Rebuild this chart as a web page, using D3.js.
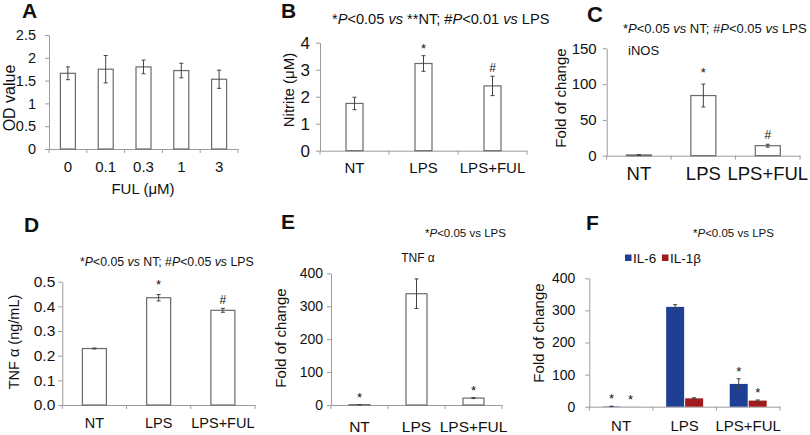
<!DOCTYPE html>
<html><head><meta charset="utf-8">
<script src="https://cdn.jsdelivr.net/npm/d3@7"></script>
<style>
body{margin:0;background:#fff;}
svg text{font-family:"Liberation Sans",Arial,Helvetica,sans-serif;fill:#111;}
</style></head><body>
<svg id="c" width="810" height="435"></svg>
<script>
// ---------- data ----------
const doseLabels = ["0","0.1","0.3","1","3"];
const odValues = [1.66,1.75,1.80,1.72,1.53];
const odErrors = [0.14,0.30,0.15,0.16,0.20];
const odTicks = [0,0.5,1,1.5,2,2.5];

const groups = ["NT","LPS","LPS+FUL"];

const nitriteValues = [1.75,3.23,2.40];
const nitriteErrors = [0.23,0.29,0.36];
const nitriteSig = ["","*","#"];
const nitriteTicks = [0,1,2,3,4];

const inosValues = [1,84,14];
const inosErrors = [0.5,16,2];
const inosSig = ["","*","#"];
const inosTicks = [0,50,100,150];

const tnfProteinValues = [0.229,0.435,0.384];
const tnfProteinErrors = [0.002,0.013,0.008];
const tnfProteinSig = ["","*","#"];
const tnfProteinTicks = [0,0.1,0.2,0.3,0.4,0.5];

const tnfMrnaValues = [1,338,21];
const tnfMrnaErrors = [0.5,45,1.5];
const tnfMrnaSig = ["*","","*"];
const foldTicks = [0,100,200,300,400];

const seriesNames = ["IL-6","IL-1β"];
const il6Values = [1,311,71];
const il6Errors = [0.5,7,16];
const il6Sig = ["*","","*"];
const il1bValues = [0.3,26,19];
const il1bErrors = [0,2,2];
const il1bSig = ["*","","*"];
const seriesColors = ["#1f3f95","#a01c1c"];

// ---------- drawing ----------
const svg = d3.select("#c");
const AX = "#9c9c9c";
const BAR = "#6a6a6a";

function panel(o){
  const x = d3.scaleBand().domain(o.cats).range([o.left,o.right]);
  const y = d3.scaleLinear().domain([0,o.ticks[o.ticks.length-1]]).range([o.bottom,o.top]);
  const g = svg.append("g");

  const ya = g.append("g").attr("transform",`translate(${o.left},0)`)
    .call(d3.axisLeft(y).tickValues(o.ticks).tickFormat(o.fmt||d3.format("")).tickSize(4).tickPadding(o.ypad-4).tickSizeOuter(0));
  const xa = g.append("g").attr("transform",`translate(0,${o.bottom})`)
    .call(d3.axisBottom(x).tickSize(0).tickPadding(o.xpad).tickSizeOuter(0));
  [ya,xa].forEach(a=>{
    a.attr("font-family",null).attr("font-size",null);
    a.selectAll("path,line").attr("stroke",AX).attr("stroke-width",1);
  });
  ya.selectAll("text").style("font-size",o.yfs+"px");
  xa.selectAll("text").style("font-size",o.xfs+"px");

  // category boundary ticks
  const bounds = o.cats.map(c=>x(c)).concat([x.range()[1]]);
  g.append("g").selectAll("line").data(bounds).join("line")
    .attr("x1",d=>d).attr("x2",d=>d).attr("y1",o.bottom).attr("y2",o.bottom+4)
    .attr("stroke",AX);

  // bars
  const n = o.series.length;
  const sub = d3.scaleBand().domain(d3.range(n)).range([0,o.barW*n]);
  const off = (x.bandwidth()-o.barW*n)/2;
  o.series.forEach((s,si)=>{
    const sg = g.append("g");
    const data = o.cats.map((c,i)=>({c,v:s.vals[i],e:s.errs[i],sig:s.sig?s.sig[i]:""}));
    sg.selectAll("rect").data(data).join("rect")
      .attr("x",d=>x(d.c)+off+sub(si)+0.5)
      .attr("y",d=>y(d.v))
      .attr("width",o.barW-1)
      .attr("height",d=>y(0)-y(d.v))
      .attr("fill",s.fill||"#fff")
      .attr("stroke",s.fill?"none":BAR).attr("stroke-width",1.2);
    const cx = d=>x(d.c)+off+sub(si)+o.barW/2;
    const eb = sg.selectAll("g.eb").data(data.filter(d=>d.e>0)).join("g").attr("class","eb");
    eb.append("line").attr("x1",cx).attr("x2",cx).attr("y1",d=>y(d.v+d.e)).attr("y2",d=>y(d.v-d.e))
      .attr("stroke","#444").attr("stroke-width",1);
    eb.append("line").attr("x1",d=>cx(d)-2).attr("x2",d=>cx(d)+2).attr("y1",d=>y(d.v+d.e)).attr("y2",d=>y(d.v+d.e))
      .attr("stroke","#444").attr("stroke-width",1);
    eb.append("line").attr("x1",d=>cx(d)-2).attr("x2",d=>cx(d)+2).attr("y1",d=>y(d.v-d.e)).attr("y2",d=>y(d.v-d.e))
      .attr("stroke","#444").attr("stroke-width",1);
    sg.selectAll("text.sig").data(data.filter(d=>d.sig)).join("text").attr("class","sig")
      .attr("x",cx).attr("y",d=>y(d.v+d.e)-(d.sig==="*"?o.starGap:o.hashGap))
      .attr("text-anchor","middle").style("font-size",(d=>d.sig==="*"?"13px":"12px"))
      .text(d=>d.sig);
  });
  return {x,y,g};
}

function label(x,y,t,fs,opts={}){
  const el = svg.append("text").attr("x",x).attr("y",y).style("font-size",fs+"px").text(t);
  if(opts.bold) el.style("font-weight","bold");
  if(opts.anchor) el.attr("text-anchor",opts.anchor);
  if(opts.rot) el.attr("transform",`rotate(-90,${x},${y})`);
  return el;
}
function annot(x,y,parts,fs){
  const t = svg.append("text").attr("x",x).attr("y",y).style("font-size",fs+"px");
  parts.forEach(p=>{
    const s = t.append("tspan").text(p[0]);
    if(p[1]) s.style("font-style","italic");
  });
}

// Panel A
panel({cats:doseLabels,left:49,right:238,top:35,bottom:149,ticks:odTicks,fmt:d3.format(""),
  ypad:13,xpad:12,yfs:14.5,xfs:15,barW:16,starGap:4,hashGap:4,
  series:[{vals:odValues,errs:odErrors}]});
label(22,18,"A",21,{bold:true});
label(15,98,"OD value",16,{anchor:"middle",rot:true});
label(143,194,"FUL (μM)",15,{anchor:"middle"});

// Panel B
panel({cats:groups,left:320,right:527,top:42.7,bottom:150.7,ticks:nitriteTicks,fmt:d3.format(""),
  ypad:10,xpad:11.5,yfs:17,xfs:15,barW:18,starGap:3,hashGap:4,
  series:[{vals:nitriteValues,errs:nitriteErrors,sig:nitriteSig}]});
label(281,18,"B",21,{bold:true});
label(294,90,"Nitrite (μM)",15,{anchor:"middle",rot:true});
annot(332,24,[["*"],["P",1],["<0.05 "],["vs",1],[" **NT; #"],["P",1],["<0.01 "],["vs",1],[" LPS"]],14.6);

// Panel C
panel({cats:groups,left:606.7,right:800,top:48.3,bottom:155.7,ticks:inosTicks,fmt:d3.format(""),
  ypad:10,xpad:11,yfs:15,xfs:18.5,barW:26,starGap:7,hashGap:5,
  series:[{vals:inosValues,errs:inosErrors,sig:inosSig}]});
label(587,22,"C",22,{bold:true});
label(566,98,"Fold of change",15,{anchor:"middle",rot:true});
annot(623,33,[["*"],["P",1],["<0.05 "],["vs",1],[" NT; #"],["P",1],["<0.05 "],["vs",1],[" LPS"]],13);
label(628,55,"iNOS",13);

// Panel D
panel({cats:groups,left:62.3,right:255,top:281.7,bottom:405,ticks:tnfProteinTicks,fmt:d3.format(".1f"),
  ypad:7,xpad:12.5,yfs:15.5,xfs:14.5,barW:25,starGap:6,hashGap:4,
  series:[{vals:tnfProteinValues,errs:tnfProteinErrors,sig:tnfProteinSig}]});
label(24,232,"D",21,{bold:true});
label(19,342,"TNF α (ng/mL)",14.5,{anchor:"middle",rot:true});
annot(80,266,[["*"],["P",1],["<0.05 "],["vs",1],[" NT; #"],["P",1],["<0.05 "],["vs",1],[" LPS"]],12.3);

// Panel E
panel({cats:groups,left:331,right:502,top:273.3,bottom:405,ticks:foldTicks,fmt:d3.format(""),
  ypad:8,xpad:15.5,yfs:14,xfs:15.5,barW:22,starGap:3,hashGap:4,
  series:[{vals:tnfMrnaValues,errs:tnfMrnaErrors,sig:tnfMrnaSig}]});
label(281,229,"E",21,{bold:true});
label(286,338,"Fold of change",15,{anchor:"middle",rot:true});
annot(425,237,[["*"],["P",1],["<0.05 vs LPS"]],11.5);
label(418,262,"TNF α",12,{anchor:"middle"});

// Panel F
const pf = panel({cats:groups,left:589.3,right:780,top:278.3,bottom:406.7,ticks:foldTicks,fmt:d3.format(""),
  ypad:14,xpad:13.5,yfs:14,xfs:15,barW:19,starGap:3,hashGap:4,
  series:[{vals:il6Values,errs:il6Errors,sig:il6Sig,fill:seriesColors[0]},
          {vals:il1bValues,errs:il1bErrors,sig:il1bSig,fill:seriesColors[1]}]});
label(586,230,"F",21,{bold:true});
label(544,333,"Fold of change",15,{anchor:"middle",rot:true});
annot(693,237,[["*"],["P",1],["<0.05 vs LPS"]],11.5);
const lg = svg.append("g").attr("transform","translate(625,258)");
const lx = d3.scaleOrdinal().domain(seriesNames).range([0,37]);
lg.selectAll("rect").data(seriesNames).join("rect")
  .attr("x",d=>lx(d)).attr("y",-3.5).attr("width",6.5).attr("height",6.5)
  .attr("fill",(d,i)=>seriesColors[i]);
lg.selectAll("text").data(seriesNames).join("text")
  .attr("x",d=>lx(d)+8).attr("y",5).style("font-size","13.5px").text(d=>d);
</script>
</body></html>
